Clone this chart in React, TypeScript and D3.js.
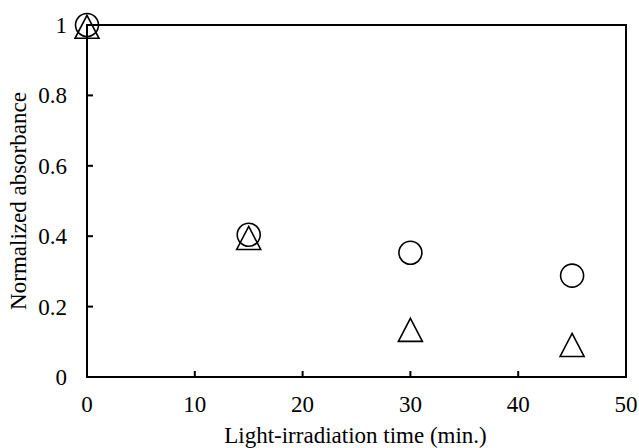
import React from 'react'
import * as d3 from 'd3'

// Series
const times = [0, 15, 30, 45]
const circleValues = [1.0, 0.404, 0.353, 0.288]
const triangleValues = [0.995, 0.395, 0.134, 0.091]
const xTicks = [0, 10, 20, 30, 40, 50]
const yTicks = [0, 0.2, 0.4, 0.6, 0.8, 1]

const W = 639
const H = 448
const margin = { left: 87, right: 13, top: 25, bottom: 71 }

const App: React.FC = () => {
  const x = d3.scaleLinear().domain([0, 50]).range([margin.left, W - margin.right])
  const y = d3.scaleLinear().domain([0, 1]).range([H - margin.bottom, margin.top])
  const font = '"Liberation Serif", "Times New Roman", serif'

  const r = 11.5
  const triW = 24
  const triH = 23
  const triPath = (cx: number, cy: number) =>
    `M${cx},${cy - triH / 2}L${cx + triW / 2},${cy + triH / 2}L${cx - triW / 2},${cy + triH / 2}Z`

  return (
    <svg width={W} height={H} style={{ position: 'absolute', left: 0, top: 0, background: '#fff' }}>
      {/* frame */}
      <rect
        x={x(0)}
        y={y(1)}
        width={x(50) - x(0)}
        height={y(0) - y(1)}
        fill="none"
        stroke="#000"
        strokeWidth={2}
      />
      {/* x ticks */}
      {xTicks.map(t => (
        <g key={'x' + t}>
          <line x1={x(t)} x2={x(t)} y1={y(0)} y2={y(0) - 6} stroke="#000" strokeWidth={2} />
          <text x={x(t)} y={412} textAnchor="middle" fontFamily={font} fontSize={23}>
            {t}
          </text>
        </g>
      ))}
      {/* y ticks */}
      {yTicks.map(t => (
        <g key={'y' + t}>
          <line x1={x(0)} x2={x(0) + 6} y1={y(t)} y2={y(t)} stroke="#000" strokeWidth={2} />
          <text x={67} y={y(t) + 8} textAnchor="end" fontFamily={font} fontSize={23}>
            {t === 0 || t === 1 ? String(t) : t.toFixed(1)}
          </text>
        </g>
      ))}
      {/* axis titles */}
      <text x={(x(0) + x(50)) / 2 - 1} y={443} textAnchor="middle" fontFamily={font} fontSize={23}>
        Light-irradiation time (min.)
      </text>
      <text
        transform={`translate(26,${(y(0) + y(1)) / 2}) rotate(-90)`}
        textAnchor="middle"
        fontFamily={font}
        fontSize={23}
      >
        Normalized absorbance
      </text>
      {/* markers */}
      {times.map((t, i) => (
        <path
          key={'t' + i}
          d={triPath(x(t), y(triangleValues[i]))}
          fill="none"
          stroke="#000"
          strokeWidth={1.6}
        />
      ))}
      {times.map((t, i) => (
        <circle
          key={'c' + i}
          cx={x(t)}
          cy={y(circleValues[i])}
          r={r}
          fill="none"
          stroke="#000"
          strokeWidth={1.6}
        />
      ))}
    </svg>
  )
}

export default App
